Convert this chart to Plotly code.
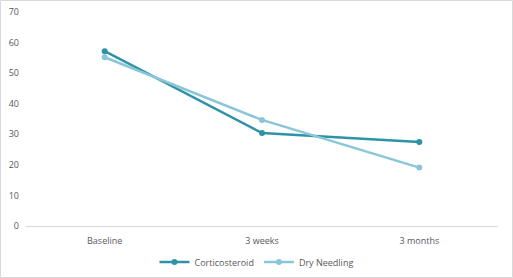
import plotly.graph_objects as go

categories = ["Baseline", "3 weeks", "3 months"]
corticosteroid = [57.2, 30.4, 27.5]
dry_needling = [55.2, 34.7, 19.1]
y_ticks = [0, 10, 20, 30, 40, 50, 60, 70]

W, H = 513, 278
L, R, T, B = 26, 15, 12, 52
pw, ph = W - L - R, H - T - B

fig = go.Figure()
fig.add_trace(go.Scatter(x=categories, y=corticosteroid, name="Corticosteroid",
                         mode="lines+markers",
                         line=dict(color="#2E93A6", width=2.5),
                         marker=dict(size=6, color="#2E93A6")))
fig.add_trace(go.Scatter(x=categories, y=dry_needling, name="Dry Needling",
                         mode="lines+markers",
                         line=dict(color="#8BC6D8", width=2.5),
                         marker=dict(size=6, color="#8BC6D8")))

fig.add_shape(type="rect", xref="paper", yref="paper",
              x0=(0.5 - L) / pw, x1=(W - 0.5 - L) / pw,
              y0=-(H - 0.5 - T - ph) / ph, y1=(ph + T - 0.5) / ph,
              line=dict(color="#D9D9D9", width=1), fillcolor="rgba(0,0,0,0)",
              layer="below")

fig.update_layout(
    width=W, height=H,
    margin=dict(l=L, r=R, t=T, b=B, autoexpand=False),
    paper_bgcolor="white", plot_bgcolor="white",
    font=dict(family="Open Sans", size=9, color="#595959"),
    showlegend=True,
    legend=dict(orientation="h", xref="container", x=0.5, xanchor="center",
                yref="container", y=16 / H, yanchor="middle",
                font=dict(size=9, color="#595959"), itemwidth=30),
    xaxis=dict(range=[-0.5, 2.5], showgrid=False, showline=True, linecolor="#D9D9D9",
               linewidth=1, ticks="", ticklabelstandoff=6,
               tickfont=dict(size=9, color="#595959"), zeroline=False, automargin=False),
    yaxis=dict(range=[0, 70], tickvals=y_ticks, showgrid=False, zeroline=False,
               showline=False, ticks="", ticklabelstandoff=6, automargin=False,
               tickfont=dict(size=9, color="#595959")),
)

fig.write_html("out.html")
